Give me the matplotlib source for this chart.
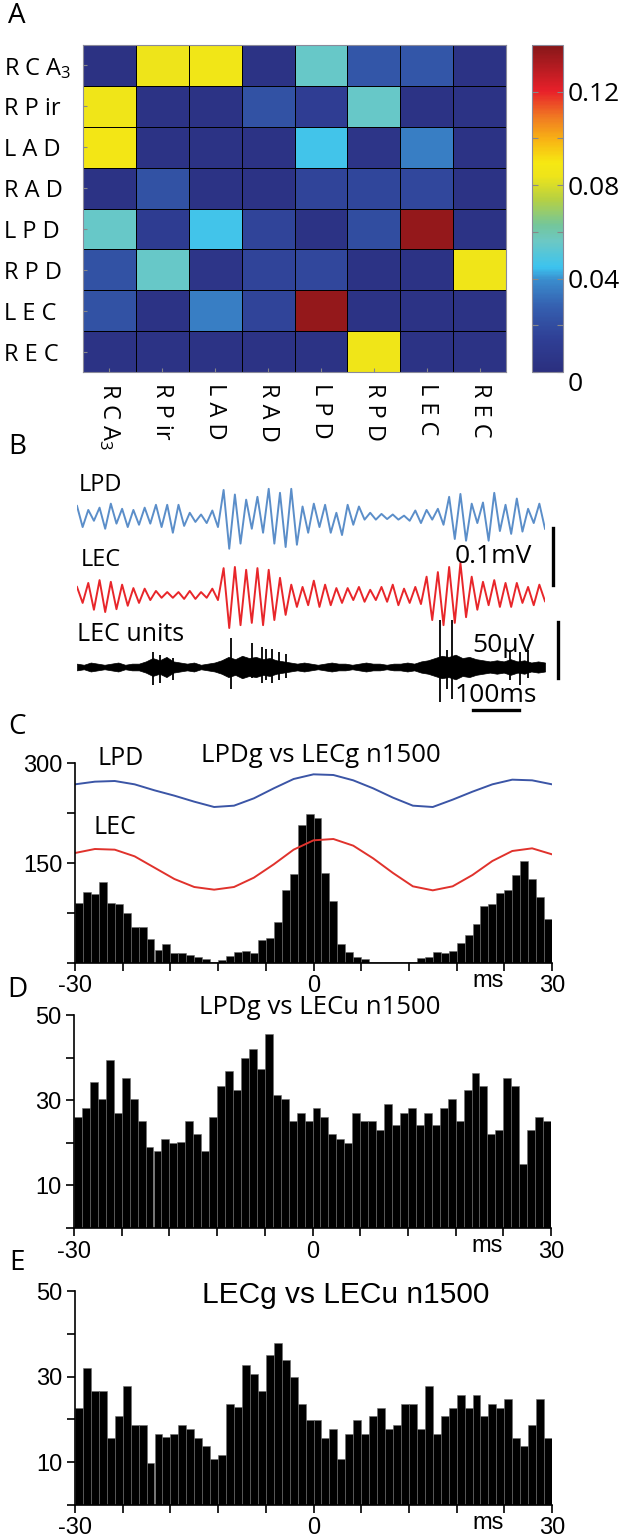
import numpy as np
import matplotlib
matplotlib.use('Agg')
import matplotlib.pyplot as plt
from matplotlib.colors import LinearSegmentedColormap

plt.rcParams['font.family'] = ['Open Sans', 'DejaVu Sans']
plt.rcParams['mathtext.fontset'] = 'custom'
plt.rcParams['mathtext.rm'] = 'Open Sans'
plt.rcParams['mathtext.it'] = 'Open Sans:italic'
NUM_FONT = 'Liberation Sans'

# ---------------- data ----------------
# A: coherence matrix (rows top -> bottom, same order for columns)
region_labels = ['R C A$_3$', 'R P ir', 'L A D', 'R A D', 'L P D', 'R P D', 'L E C', 'R E C']
conn = [
    [0.003, 0.084, 0.086, 0.004, 0.055, 0.024, 0.024, 0.004],
    [0.085, 0.004, 0.004, 0.022, 0.013, 0.055, 0.004, 0.004],
    [0.087, 0.004, 0.004, 0.004, 0.046, 0.006, 0.036, 0.004],
    [0.004, 0.022, 0.004, 0.004, 0.016, 0.017, 0.018, 0.004],
    [0.055, 0.012, 0.046, 0.016, 0.004, 0.020, 0.137, 0.004],
    [0.022, 0.055, 0.006, 0.016, 0.018, 0.004, 0.004, 0.085],
    [0.022, 0.004, 0.036, 0.016, 0.137, 0.004, 0.004, 0.004],
    [0.004, 0.004, 0.004, 0.004, 0.004, 0.085, 0.004, 0.004],
]
cbar_ticks = [0, 0.02, 0.04, 0.06, 0.08, 0.10, 0.12]
cbar_labels = ['0', '', '0.04', '', '0.08', '', '0.12']

# B: gamma traces, one peak / trough per cycle (uV), 0-1020 ms
trace_ms = 1020
lpd_peaks = [19, 12, 16, 23, 14, 12, 16, 21, 21, 21, 7, 4, 11, 47, 39, 30, 35, 49, 42, 49, 18,
             23, 21, 7, 21, 18, 7, 5, 4, 2, 11, 12, 14, 35, 40, 23, 25, 42, 21, 32, 14, 23]
lpd_troughs = [18, 7, 21, 12, 18, 14, 12, 18, 28, 16, 9, 11, 18, 56, 47, 21, 28, 47, 53, 49, 28,
               18, 28, 32, 14, 5, 5, 4, 5, 7, 11, 5, 14, 39, 42, 11, 42, 25, 30, 26, 11, 21]
lec_peaks = [14, 21, 26, 23, 18, 12, 11, 7, 5, 5, 7, 5, 11, 47, 49, 44, 47, 44, 30, 18, 14,
             25, 18, 12, 12, 14, 9, 14, 18, 11, 14, 32, 40, 49, 56, 32, 23, 26, 21, 21, 14, 18]
lec_troughs = [14, 26, 30, 25, 19, 14, 9, 5, 5, 7, 7, 5, 9, 58, 53, 49, 53, 44, 35, 21, 18,
               21, 18, 14, 9, 12, 9, 12, 18, 14, 16, 44, 53, 49, 39, 26, 18, 21, 21, 14, 18, 11]
# LEC units: background noise half-width (uV) every 15 ms, and spikes
noise_t = np.arange(0, trace_ms + 1, 15)
noise_hw = [3, 2, 4, 3, 2, 3, 4, 2, 3, 3,
            5, 8, 6, 9, 5, 4,
            3, 4, 2, 3,
            4, 6, 9, 7, 10, 8, 9, 7, 8, 6, 5, 4,
            3, 4, 3, 2, 3, 4, 3, 3, 2, 3, 4, 3, 3, 2, 3, 3, 4, 3, 5, 6,
            8, 10, 9, 11, 8, 9, 7, 6, 5,
            6, 5, 7, 5, 6, 4, 5, 4]
spike_t = [166, 181, 209, 336, 381, 403, 412, 425, 440, 455, 791, 806, 817, 944, 965, 983]
spike_up = [13, 11, 8, 26, 21, 18, 16, 16, 13, 12, 42, 15, 42, 14, 13, 15]
spike_down = [16, 14, 12, 20, 10, 14, 12, 14, 12, 10, 31, 20, 29, 12, 16, 10]

# C-E: cross-correlograms, 1 ms bins from -30 to 30 ms
bin_left = np.arange(-30, 30)
lpdg_lecg = [90, 106, 104, 121, 90, 88, 75, 54, 54, 36, 19, 28, 15, 15, 12, 9, 6,
             1, 5, 11, 16, 18, 15, 34, 38, 61, 110, 133, 207, 223, 218, 135, 93, 29, 16, 9,
             6, 1, 1, 2, 1, 1,
             2, 8, 9, 16, 15, 18, 30, 42, 58, 85, 88, 105, 109, 132, 153, 126, 99, 66]
avg_t = [-30, -27.5, -25, -22.5, -20, -17.5, -15, -12.5, -10, -7.5, -5, -2.5, 0,
         2.5, 5, 7.5, 10, 12.5, 15, 17.5, 20, 22.5, 25, 27.5, 30]
lpd_avg = [268, 272, 273, 268, 259, 251, 242, 234, 236, 247, 262, 276, 283,
           282, 274, 262, 248, 236, 234, 245, 257, 268, 275, 274, 268]
lec_avg = [165, 171, 170, 160, 143, 126, 114, 110, 114, 128, 148, 170, 184,
           186, 176, 157, 135, 115, 109, 115, 132, 153, 168, 172, 163]
lpdg_lecu = [26.1, 28.1, 34.3, 30.2, 39.4, 27.1, 35.3, 30.2, 25.1, 19.1, 18.0, 21.0, 20.0, 20.2,
             25.2, 22.1, 18.0, 26.1, 33.3, 36.8, 32.3, 39.8, 42.0, 37.3, 45.5, 31.2, 30.2, 25.2,
             27.1, 25.2, 28.1, 26.1, 22.1, 21.0, 20.0, 27.1, 25.2, 25.2, 23.1, 29.1, 24.1, 27.1,
             28.1, 24.1, 27.1, 24.1, 28.1, 30.2, 25.2, 32.3, 36.3, 33.3, 22.1, 23.1, 35.3, 33.3,
             15.0, 23.1, 26.1, 25.2]
lecg_lecu = [22.7, 31.9, 26.7, 26.7, 15.7, 20.8, 27.8, 18.7, 18.7, 9.7, 16.7, 15.9, 16.7, 18.7,
             17.7, 15.7, 13.8, 10.7, 11.7, 23.7, 22.9, 32.8, 30.7, 26.7, 35.0, 37.9, 33.8, 29.8,
             23.7, 19.8, 19.8, 15.7, 17.7, 10.7, 16.7, 19.8, 16.7, 20.8, 22.7, 17.7, 18.7, 23.7,
             23.7, 17.7, 27.8, 16.7, 20.8, 22.7, 25.7, 22.7, 25.7, 20.8, 23.7, 22.7, 24.7, 15.7,
             13.8, 18.7, 24.7, 15.7]

# ---------------- figure ----------------
W, H = 629, 1537
fig = plt.figure(figsize=(W / 100, H / 100), dpi=100)


def px_axes(x0, y0, x1, y1):
    return fig.add_axes([x0 / W, 1 - y1 / H, (x1 - x0) / W, (y1 - y0) / H])


def ftext(x, y, s, **kw):
    fig.text(x / W, 1 - y / H, s, **kw)


cmap = LinearSegmentedColormap.from_list('coh', [
    (0.00, '#2b2f7f'), (0.10, '#2f3f95'), (0.20, '#3560b0'), (0.28, '#3a8ccd'),
    (0.32, '#3cc3ef'), (0.40, '#6cc8c4'), (0.45, '#74c69a'), (0.53, '#b8d140'),
    (0.60, '#eee41a'), (0.64, '#f6e812'), (0.71, '#f8b414'), (0.78, '#f07a22'),
    (0.86, '#e8202a'), (1.00, '#861719')])

# A
ax = px_axes(83, 45, 506, 372)
mesh = ax.pcolormesh(np.array(conn), cmap=cmap, vmin=0, vmax=0.14,
                     edgecolors='k', linewidth=0.6)
ax.set_xlim(0, 8)
ax.set_ylim(8, 0)
ax.set_xticks(np.arange(8) + 0.5)
ax.set_yticks(np.arange(8) + 0.5)
ax.set_xticklabels(region_labels, rotation=270, ha='center', va='top', fontsize=17)
ax.set_yticklabels(region_labels, ha='left', fontsize=17)
ax.tick_params(axis='y', direction='in', length=3, color='#888888', pad=57)
ax.tick_params(axis='x', direction='in', length=3, color='#888888', pad=8)
for s in ax.spines.values():
    s.set_color('#8a8a9a')

cax = px_axes(532, 45, 563, 372)
cb = fig.colorbar(mesh, cax=cax, ticks=cbar_ticks)
cb.ax.set_yticklabels(cbar_labels, fontsize=19)
cb.ax.tick_params(direction='in', length=4, color='#888888', left=True, right=True, pad=3)
cb.outline.set_edgecolor('#8a8a9a')
cb.ax.get_yticklabels()[0].set_va('top')

# B
t_half = np.linspace(0, trace_ms, 2 * len(lpd_peaks))
lpd_trace = np.ravel(np.column_stack([lpd_peaks, -np.array(lpd_troughs)]))
lec_trace = np.ravel(np.column_stack([lec_peaks, -np.array(lec_troughs)]))
lpd_offset = 137

axb = px_axes(77, 470, 545, 640)
axb.plot(t_half, lpd_trace + lpd_offset, color='#5b8ec9', lw=1.4, solid_joinstyle='round')
axb.plot(t_half, lec_trace, color='#e8262a', lw=1.4, solid_joinstyle='round')
axb.plot([1037, 1037], [17.5, 117.5], color='k', lw=2.4, clip_on=False)
axb.set_xlim(0, trace_ms)
axb.set_ylim(-79, 219)
axb.axis('off')
axb.patch.set_visible(False)

axu = px_axes(77, 600, 545, 720)
axu.fill_between(noise_t, -np.array(noise_hw), noise_hw, color='k', lw=0.5)
axu.vlines(spike_t, -np.array(spike_down), spike_up, color='k', lw=1.3)
axu.plot([1048, 1048], [-9.8, 40.2], color='k', lw=2.4, clip_on=False)
axu.plot([863, 963], [-38.4, -38.4], color='k', lw=2.4, clip_on=False)
axu.set_xlim(0, trace_ms)
axu.set_ylim(-47.3, 59.8)
axu.axis('off')
axu.patch.set_visible(False)

ftext(79, 485, 'LPD', fontsize=17, va='center')
ftext(81, 560, 'LEC', fontsize=17, va='center')
ftext(77, 635, 'LEC units', fontsize=18, va='center')
ftext(455, 556, '0.1mV', fontsize=19, va='center')
ftext(472, 645, '50\u00b5V', fontsize=19, va='center')
ftext(455, 696, '100ms', fontsize=19, va='center')


# C-E
def corr_axes(ax, counts, ymax, yticks, ylabels):
    ax.bar(bin_left + 0.5, counts, width=1.0, color='k', edgecolor='#6e6e6e', linewidth=0.4)
    ax.set_xlim(-30, 30)
    ax.set_ylim(0, ymax)
    for s in ['top', 'right']:
        ax.spines[s].set_visible(False)
    for s in ['left', 'bottom']:
        ax.spines[s].set_linewidth(1.2)
    ax.set_xticks(np.arange(-30, 31, 6))
    ax.set_xticklabels(['-30', '', '', '', '', '0', '', '', '', '', '30'])
    ax.set_yticks(yticks)
    ax.set_yticklabels(ylabels)
    ax.tick_params(direction='out', length=6, width=1.2, labelsize=17, pad=3)
    for lab in ax.get_xticklabels() + ax.get_yticklabels():
        lab.set_fontfamily(NUM_FONT)
    ax.text(22, -0.035 * ymax, 'ms', transform=ax.transData, ha='center', va='top',
            fontsize=17, family=NUM_FONT)


axc = px_axes(75, 763, 552, 963)
corr_axes(axc, lpdg_lecg, 300, [0, 75, 150, 225, 300], ['', '', '150', '', '300'])
axc.plot(avg_t, lpd_avg, color='#3b55a6', lw=1.4)
axc.plot(avg_t, lec_avg, color='#e0322c', lw=1.4)
ftext(97, 758, 'LPD', fontsize=18, va='center')
ftext(93, 827, 'LEC', fontsize=18, va='center')
ftext(321, 755, 'LPDg vs LECg n1500', fontsize=18.5, ha='center', va='center')

axd = px_axes(74, 1015, 551, 1228)
corr_axes(axd, lpdg_lecu, 50, [0, 10, 20, 30, 40, 50], ['', '10', '', '30', '', '50'])
ftext(320, 1008, 'LPDg vs LECu n1500', fontsize=18.5, ha='center', va='center')

axe = px_axes(75, 1291, 552, 1505)
corr_axes(axe, lecg_lecu, 50, [0, 10, 20, 30, 40, 50], ['', '10', '', '30', '', '50'])
ftext(346, 1295, 'LECg vs LECu n1500', fontsize=21.5, ha='center', va='center', family=NUM_FONT)

for letter, y in zip('ABCDE', [16, 447, 727, 990, 1263]):
    ftext(17, y, letter, fontsize=20, ha='center', va='center')

fig.savefig('out.png', dpi=100)
